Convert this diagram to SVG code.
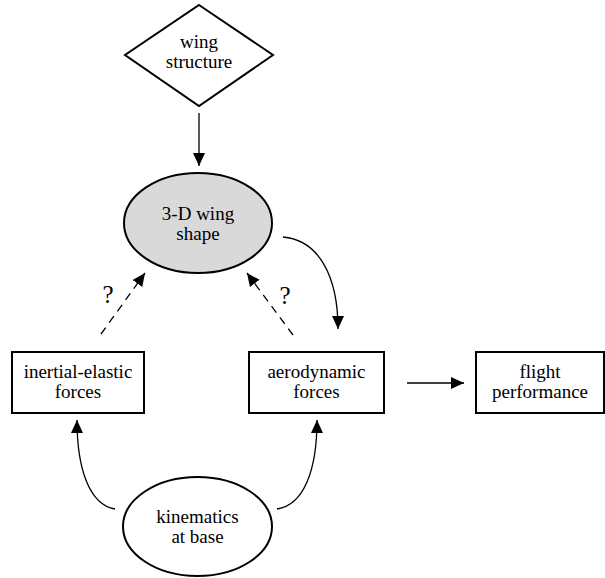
<svg xmlns="http://www.w3.org/2000/svg" width="605" height="578" viewBox="0 0 605 578">
<style>
text{font-family:"Liberation Serif","Times New Roman",serif;font-size:19px;fill:#000;text-anchor:middle}
.q{font-size:25px}
.shape{fill:#fff;stroke:#000;stroke-width:2}
.gray{fill:#d9d9d9;stroke:#000;stroke-width:2}
.c{fill:none;stroke:#000;stroke-width:1.3}
.d{fill:none;stroke:#000;stroke-width:1.3;stroke-dasharray:8 6}
</style>
<defs>
<marker id="ah" markerUnits="userSpaceOnUse" markerWidth="14" markerHeight="14" viewBox="0 0 14 14" refX="13" refY="7" orient="auto">
<path d="M0,1 L13,7 L0,13 Z" fill="#000"/>
</marker>
</defs>
<g id="connectors">
<line class="c" x1="199" y1="113" x2="199" y2="166" marker-end="url(#ah)"/>
<path class="c" d="M283,237 C318,240 338,275 338,329" marker-end="url(#ah)"/>
<path class="d" d="M101,334 L145,273" marker-end="url(#ah)"/>
<path class="d" d="M293,335 L247,273" marker-end="url(#ah)"/>
<line class="c" x1="407" y1="383" x2="464" y2="383" marker-end="url(#ah)"/>
<path class="c" d="M115,509 C90,505 77,470 77,420" marker-end="url(#ah)"/>
<path class="c" d="M277,509 C304,505 317,470 317,420" marker-end="url(#ah)"/>
</g>
<g id="labels">
<text class="q" x="108" y="303">?</text>
<text class="q" x="285" y="304">?</text>
</g>
<g id="wing-structure">
<polygon class="shape" points="199,5 273,55 199,106 125,55" stroke-width="1.5"/>
<text x="199" y="48">wing</text>
<text x="199" y="68">structure</text>
</g>
<g id="wing-shape">
<ellipse class="gray" cx="198" cy="223" rx="74" ry="50"/>
<text x="198" y="220">3-D wing</text>
<text x="198" y="240">shape</text>
</g>
<g id="inertial-elastic">
<rect class="shape" x="12" y="352" width="132" height="61"/>
<text x="78" y="378">inertial-elastic</text>
<text x="78" y="398">forces</text>
</g>
<g id="aerodynamic">
<rect class="shape" x="249" y="352" width="135" height="61"/>
<text x="316.5" y="378">aerodynamic</text>
<text x="316.5" y="398">forces</text>
</g>
<g id="flight-performance">
<rect class="shape" x="476" y="352" width="128" height="61"/>
<text x="540" y="378">flight</text>
<text x="540" y="398">performance</text>
</g>
<g id="kinematics">
<ellipse class="shape" cx="197.5" cy="526.5" rx="74.5" ry="49.5"/>
<text x="197.5" y="523">kinematics</text>
<text x="197.5" y="543">at base</text>
</g>
</svg>
